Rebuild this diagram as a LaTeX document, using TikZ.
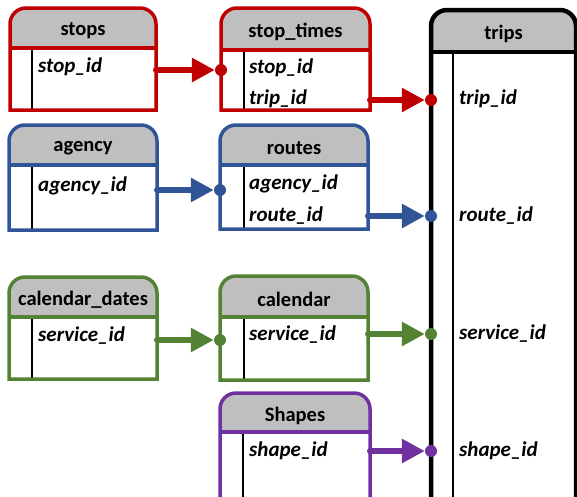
\documentclass[tikz,border=0pt]{standalone}
\usepackage{fontspec}
\setmainfont{Carlito}
\usetikzlibrary{arrows.meta}
\definecolor{tabred}{RGB}{192,0,0}
\definecolor{tabblue}{RGB}{47,85,151}
\definecolor{tabgreen}{RGB}{84,130,53}
\definecolor{tabpurple}{RGB}{112,48,160}
\definecolor{tabhead}{RGB}{191,191,191}

\tikzset{
  tabtitle/.style={font=\fontsize{20.5}{23}\selectfont\bfseries, inner sep=0pt},
  tabfield/.style={font=\fontsize{21}{24}\selectfont\bfseries\itshape, anchor=west, inner sep=0pt},
  tabdot/.style={circle, fill=#1, minimum size=12pt, inner sep=0pt},
  link/.style={#1, line width=6pt, line cap=round, -{Triangle[length=23pt,width=23pt]}},
}

\begin{document}
\begin{tikzpicture}[x=1pt,y=-1pt]
  \useasboundingbox (0,0) rectangle (577,496);

  % Tables: name/colour/left/top/right/bottom/header/inner/title/width
  \foreach \nm/\col/\xa/\ya/\xb/\yb/\yh/\xi/\ttl/\lw in {
      stops/tabred/10/8/156/110/48/32/stops/3.5,
      stoptimes/tabred/221/8/370/110/50/244/stop\_times/3.5,
      trips/black/431/10/576/506/52/453/trips/4.5,
      agency/tabblue/9/125/157/230/165/32/agency/3.5,
      routes/tabblue/220/125/368/229/165/244/routes/3.5,
      caldates/tabgreen/9/277/157/379/317/32/calendar\_dates/3.5,
      calendar/tabgreen/220/276/368/380/317/244/calendar/3.5,
      shapes/tabpurple/220/393/370/506/432/243/Shapes/3.5} {
    \fill[tabhead] (\xa,\yh) [rounded corners=16pt] -- (\xa,\ya) -- (\xb,\ya)
      [sharp corners] -- (\xb,\yh) -- cycle;
    \draw[black, line width=1.5pt] (\xi,\yh) -- (\xi,\yb);
    \draw[\col, line width=\lw pt] (\xa,\yh) -- (\xb,\yh);
    \draw[\col, line width=\lw pt] (\xa,\yb) [rounded corners=16pt] -- (\xa,\ya) -- (\xb,\ya)
      [sharp corners] -- (\xb,\yb) -- cycle;
    \node[tabtitle] (\nm) at ({(\xa+\xb)/2},{(\ya+\yh)/2+3}) {\ttl};
  }

  % Fields
  \node[tabfield] (stops-stopid) at (38,67) {stop\_id};
  \node[tabfield] (stoptimes-stopid) at (249,68) {stop\_id};
  \node[tabfield] (stoptimes-tripid) at (249,99) {trip\_id};
  \node[tabfield] (agency-agencyid) at (38,186) {agency\_id};
  \node[tabfield] (routes-agencyid) at (249,184) {agency\_id};
  \node[tabfield] (routes-routeid) at (249,216) {route\_id};
  \node[tabfield] (caldates-serviceid) at (38,336) {service\_id};
  \node[tabfield] (calendar-serviceid) at (249,335) {service\_id};
  \node[tabfield] (shapes-shapeid) at (249,451) {shape\_id};
  \node[tabfield] (trips-tripid) at (459,99) {trip\_id};
  \node[tabfield] (trips-routeid) at (459,216) {route\_id};
  \node[tabfield] (trips-serviceid) at (459,334) {service\_id};
  \node[tabfield] (trips-shapeid) at (459,451) {shape\_id};

  % Key ends
  \coordinate (stops-out) at (156,70);
  \coordinate (stoptimes-out) at (370,100);
  \coordinate (agency-out) at (157,190);
  \coordinate (routes-out) at (368,216);
  \coordinate (caldates-out) at (157,340);
  \coordinate (calendar-out) at (368,334);
  \coordinate (shapes-out) at (370,451);
  \node[tabdot=tabred] (stoptimes-in) at (221,70) {};
  \node[tabdot=tabred] (trips-tripin) at (431,100) {};
  \node[tabdot=tabblue] (routes-in) at (220,190) {};
  \node[tabdot=tabblue] (trips-routein) at (431,216) {};
  \node[tabdot=tabgreen] (calendar-in) at (220,340) {};
  \node[tabdot=tabgreen] (trips-servicein) at (431,334) {};
  \node[tabdot=tabpurple] (trips-shapein) at (431,451) {};

  % Links
  \draw[link=tabred] (stops-out) -- (stoptimes-in);
  \draw[link=tabred] (stoptimes-out) -- (trips-tripin);
  \draw[link=tabblue] (agency-out) -- (routes-in);
  \draw[link=tabblue] (routes-out) -- (trips-routein);
  \draw[link=tabgreen] (caldates-out) -- (calendar-in);
  \draw[link=tabgreen] (calendar-out) -- (trips-servicein);
  \draw[link=tabpurple] (shapes-out) -- (trips-shapein);
\end{tikzpicture}
\end{document}
